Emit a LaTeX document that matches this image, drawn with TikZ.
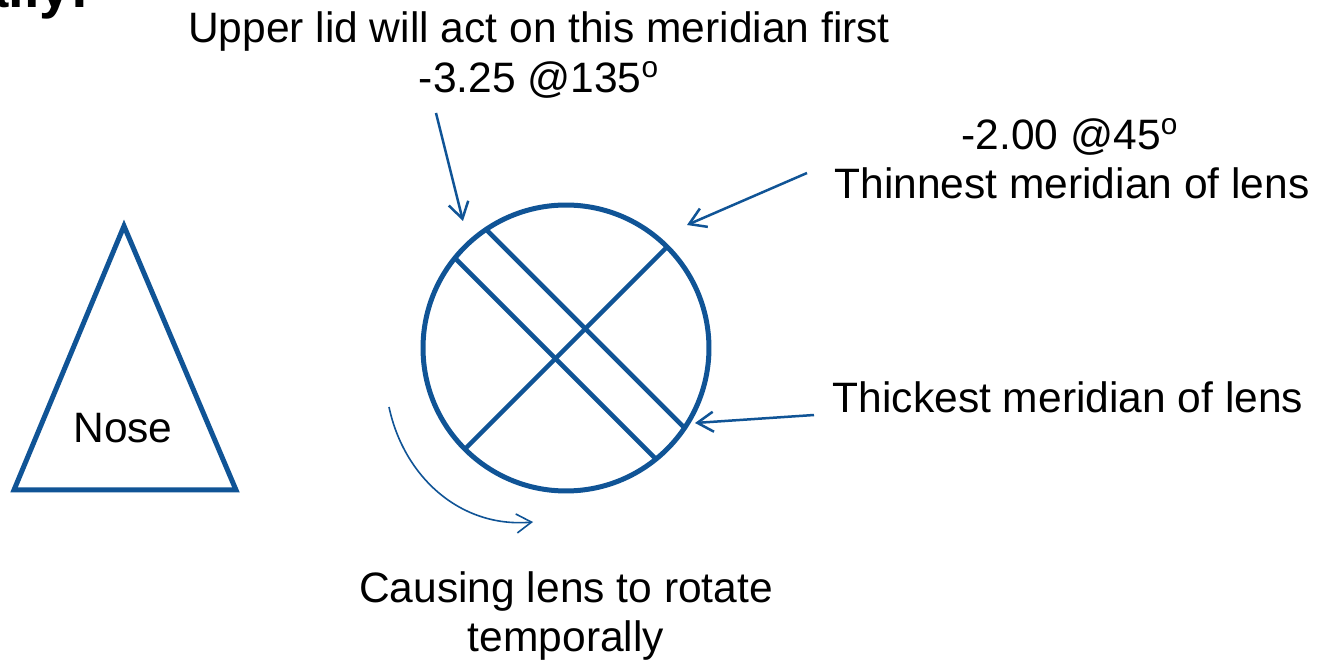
\documentclass[tikz,border=0pt]{standalone}
\usepackage{fontspec}
\setmainfont{Liberation Sans}
\usetikzlibrary{arrows.meta}

\definecolor{lensblue}{RGB}{16,84,150}

\begin{document}
\begin{tikzpicture}[
  x=0.02cm, y=0.02cm,
  font=\fontsize{24.2}{29}\selectfont,
  txt/.style={inner sep=0pt, anchor=base, text=black},
  outline/.style={draw=lensblue, line width=0.1cm},
  chord/.style={draw=lensblue, line width=0.09cm},
  pointer/.style={draw=lensblue, line width=0.05cm,
                  -{Straight Barb[length=0.32cm, width=0.4cm]}},
  turn/.style={draw=lensblue, line width=0.032cm,
               -{Straight Barb[length=0.3cm, width=0.38cm]}}
]
% page
\fill[white] (0,0) rectangle (1320,660);
\useasboundingbox (0,0) rectangle (1320,660);

% cut-off heading
\node[txt, anchor=base east, font=\fontsize{32}{38}\selectfont\bfseries] (heading) at (90,652) {ally:};

% nose
\coordinate (apex) at (124,434);
\coordinate (nosel) at (14,170);
\coordinate (noser) at (236,170);
\draw[outline] (apex) -- (nosel) -- (noser) -- cycle;
\node[txt] (nose) at (123,217) {Nose};

% lens and its meridians
\node[outline, circle, inner sep=0pt, outer sep=0pt, minimum size=5.72cm] (lens) at (566,312) {};
\draw[chord] (lens.124) -- (lens.-34);
\draw[chord] (lens.141) -- (lens.-51);
\draw[chord] (lens.45) -- (lens.225);

% labels
\node[txt] (lidnote) at (539,617) {Upper lid will act on this meridian first};
\node[txt] (lidpower) at (539,567) {-3.25 @135\textsuperscript{o}};
\node[txt] (thinpower) at (1070,510) {-2.00 @45\textsuperscript{o}};
\node[txt] (thinnote) at (1072,461) {Thinnest meridian of lens};
\node[txt] (thicknote) at (1068,247) {Thickest meridian of lens};
\node[txt] (rotnote) at (566,57) {Causing lens to rotate};
\node[txt] (rotnote2) at (566,9) {temporally};

% pointers
\coordinate (lidtail) at (436,547);
\coordinate (lidtip) at (463,439);
\coordinate (thintail) at (807,487);
\coordinate (thintip) at (687,435);
\coordinate (thicktail) at (814,245);
\coordinate (thicktip) at (695,237);
\coordinate (rottail) at (389,253);
\coordinate (rottip) at (533,138);
\draw[pointer] (lidtail) -- (lidtip);
\draw[pointer] (thintail) -- (thintip);
\draw[pointer] (thicktail) -- (thicktip);
\draw[turn] (rottail) to[out=-78, in=185] (rottip);
\end{tikzpicture}
\end{document}
